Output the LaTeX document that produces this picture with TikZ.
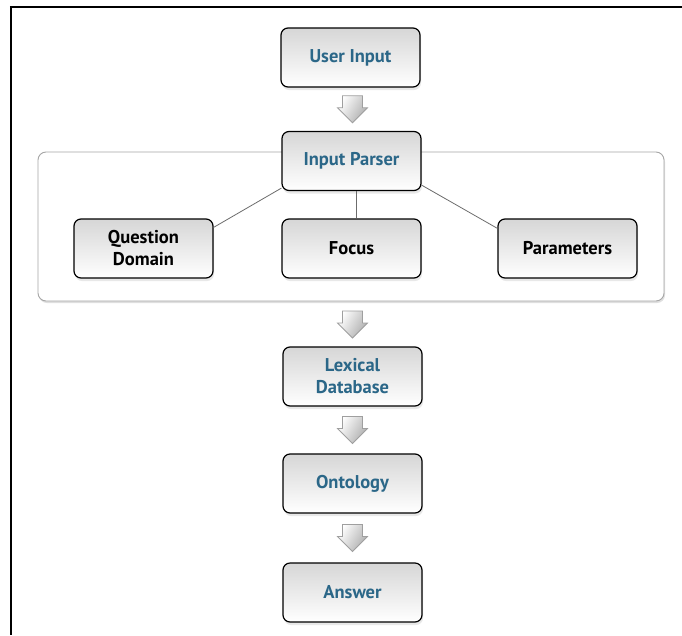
\documentclass[tikz,border=0pt]{standalone}
\usepackage{fontspec}
\setmainfont{PT Sans}
\usetikzlibrary{shadows,calc}
\definecolor{txtblue}{HTML}{2B6788}
\tikzset{
  box/.style={draw=black, line width=1.2pt, rounded corners=7pt, minimum width=139pt, minimum height=59pt,
     top color=gray!32, bottom color=white, align=center, font=\fontsize{18.5}{22}\selectfont\bfseries,
     drop shadow={shadow xshift=1pt, shadow yshift=-3pt, opacity=0.18}},
  bluebox/.style={box, text=txtblue},
  blackbox/.style={box, text=black},
  container/.style={draw=gray!70, line width=0.9pt, rounded corners=8pt, fill=white,
     drop shadow={shadow xshift=1pt, shadow yshift=-2pt, opacity=0.25}},
  link/.style={draw=gray!85!black, line width=0.8pt},
  frame/.style={line width=2.4pt, black},
  pics/downarr/.style={code={
     \draw[draw=gray!75, line width=0.8pt, left color=white, right color=gray!65, shading angle=60]
       (-10,-13.5) -- (10,-13.5) -- (10,-1.5) -- (15,-1.5) -- (0,13.5) -- (-15,-1.5) -- (-10,-1.5) -- cycle;
  }}
}
\begin{document}
\begin{tikzpicture}[x=1pt,y=-1pt]
\useasboundingbox[fill=white] (0,0) rectangle (682,635);
\draw[frame] (9.8,7) -- (682,7);
\draw[frame] (11,7) -- (11,635);
% container
\path[container] (38,152) rectangle (664,301);
% nodes
\node[bluebox] (ui) at (350.5,57.5) {User Input};
\node[bluebox] (ip) at (351.5,161) {Input Parser};
\node[blackbox] (qd) at (143.5,248.5) {Question\\Domain};
\node[blackbox] (fo) at (351.5,248.5) {Focus};
\node[blackbox] (pa) at (567.5,248.5) {Parameters};
\node[bluebox] (ld) at (352.5,376.5) {Lexical\\Database};
\node[bluebox] (on) at (352.5,483.5) {Ontology};
\node[bluebox] (an) at (352.5,592.5) {Answer};
% links
\draw[link] ($(ip.south west)+(0,-3)$) -- ($(qd.north east)+(0,9)$);
\draw[link] ($(ip.south)+(4.5,0)$) -- ($(fo.north)+(4.5,0)$);
\draw[link] ($(ip.south east)+(0,-6)$) -- ($(pa.north west)+(0,10)$);
% arrows
\coordinate (a1) at ($(ui.south)!0.5!(ip.north)+(1.5,0)$);
\coordinate (a2) at (352.5,324.5);
\coordinate (a3) at ($(ld.south)!0.5!(on.north)$);
\coordinate (a4) at ($(on.south)!0.5!(an.north)$);
\pic at (a1) {downarr};
\pic at (a2) {downarr};
\pic at (a3) {downarr};
\pic at (a4) {downarr};
\end{tikzpicture}
\end{document}
